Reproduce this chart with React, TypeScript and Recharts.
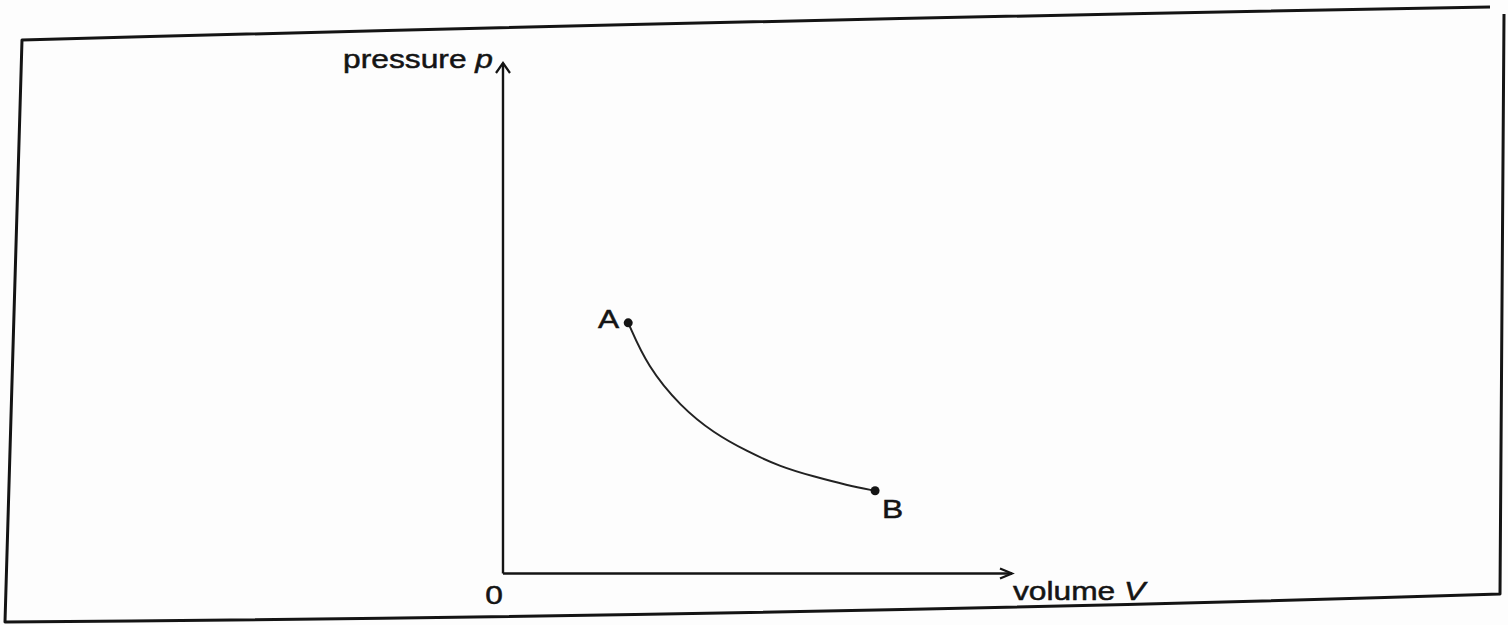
import React from "react";
import { LineChart, Line, XAxis, YAxis, ReferenceDot } from "recharts";

// Data (volume V, pressure p), arbitrary units
const volume = [2.46, 2.84, 3.49, 4.14, 4.8, 5.45, 6.1, 6.76, 7.31];
const pressure = [4.91, 4.05, 3.27, 2.75, 2.39, 2.09, 1.9, 1.73, 1.62];
const endLabels = ["A", "B"];
const xAxisWord = "volume";
const xAxisSymbol = "V";
const yAxisWord = "pressure";
const yAxisSymbol = "p";
const originLabel = "0";
const axisMax = 10;

const data = volume.map((V, i) => ({ V, p: pressure[i] }));

const INK = "#141414";
const FONT = "'Liberation Sans', Arial, Helvetica, sans-serif";
const FS = 26;
const STRETCH = "scale(1.22,1)";

const StretchText = ({ x, y, anchor, children }: any) => (
  <g transform={`translate(${x},${y}) ${STRETCH}`}>
    <text
      x={0}
      y={0}
      textAnchor={anchor}
      fontFamily={FONT}
      fontSize={FS}
      fill={INK}
      stroke={INK}
      strokeWidth={0.5}
    >
      {children}
    </text>
  </g>
);

const renderDot = (props: any) => {
  const { cx, cy, index } = props;
  if (index === 0) {
    return (
      <g key={`d${index}`}>
        <circle cx={cx} cy={cy} r={4.5} fill={INK} />
        <StretchText x={cx - 9} y={cy + 5} anchor="end">{endLabels[0]}</StretchText>
      </g>
    );
  }
  if (index === data.length - 1) {
    return (
      <g key={`d${index}`}>
        <circle cx={cx} cy={cy} r={4.5} fill={INK} />
        <StretchText x={cx + 7} y={cy + 27} anchor="start">{endLabels[1]}</StretchText>
      </g>
    );
  }
  return <g key={`d${index}`} />;
};

const XArrow = (props: any) => {
  const { cx, cy } = props;
  return (
    <g>
      <path d={`M${cx - 12},${cy - 5} L${cx},${cy} L${cx - 12},${cy + 5}`} fill="none" stroke={INK} strokeWidth={2.2} />
      <StretchText x={cx + 1} y={cy + 26} anchor="start">
        {xAxisWord} <tspan fontStyle="italic">{xAxisSymbol}</tspan>
      </StretchText>
    </g>
  );
};

const YArrow = (props: any) => {
  const { cx, cy } = props;
  return (
    <g>
      <path d={`M${cx - 7},${cy + 10} L${cx},${cy} L${cx + 7},${cy + 10}`} fill="none" stroke={INK} strokeWidth={2.2} />
      <StretchText x={cx - 10} y={cy + 5} anchor="end">
        {yAxisWord} <tspan fontStyle="italic">{yAxisSymbol}</tspan>
      </StretchText>
    </g>
  );
};

const Origin = (props: any) => {
  const { cx, cy } = props;
  return <StretchText x={cx - 9} y={cy + 30} anchor="middle">{originLabel}</StretchText>;
};

export default function App() {
  return (
    <div style={{ position: "absolute", left: 0, top: 0, width: 1508, height: 625, background: "#fdfdfd", overflow: "hidden" }}>
      <svg width={1508} height={625} style={{ position: "absolute", left: 0, top: 0 }}>
        <path
          d="M1490,7 Q760,20 22,40 L5,622 Q800,616 1500,594 L1504,14"
          fill="none"
          stroke={INK}
          strokeWidth={3}
          strokeLinejoin="round"
        />
      </svg>
      <div style={{ position: "absolute", left: 0, top: 0 }}>
        <LineChart width={1508} height={625} data={data} margin={{ top: 63, right: 496, bottom: 50.5, left: 502 }}>
          <XAxis
            type="number"
            dataKey="V"
            domain={[0, axisMax]}
            height={1}
            tick={false}
            tickLine={false}
            axisLine={{ stroke: INK, strokeWidth: 2.4 }}
          />
          <YAxis
            type="number"
            dataKey="p"
            domain={[0, axisMax]}
            width={1}
            tick={false}
            tickLine={false}
            axisLine={{ stroke: INK, strokeWidth: 2.4 }}
          />
          <Line
            type="basis"
            dataKey="p"
            stroke="#222"
            strokeWidth={2}
            dot={renderDot}
            activeDot={false}
            isAnimationActive={false}
          />
          <ReferenceDot x={axisMax} y={0} ifOverflow="visible" shape={XArrow} />
          <ReferenceDot x={0} y={axisMax} ifOverflow="visible" shape={YArrow} />
          <ReferenceDot x={0} y={0} ifOverflow="visible" shape={Origin} />
        </LineChart>
      </div>
    </div>
  );
}
